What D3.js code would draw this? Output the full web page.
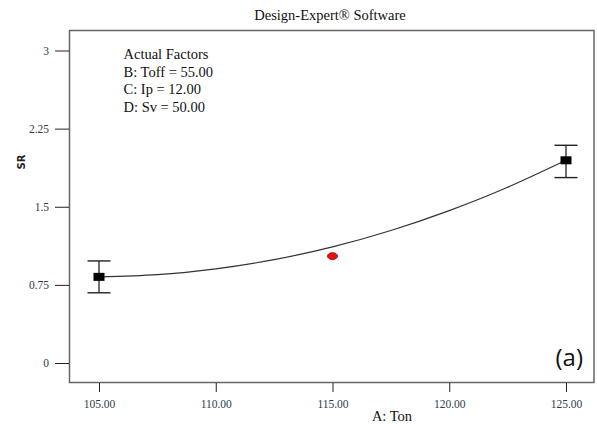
<!DOCTYPE html>
<html>
<head>
<meta charset="utf-8">
<script src="https://cdn.jsdelivr.net/npm/d3@7"></script>
<style>
  html, body { margin: 0; padding: 0; background: #fff; }
  svg { display: block; }
</style>
</head>
<body>
<svg id="chart" width="597" height="424"></svg>
<script>
// Design points (A: Ton) with observed means and error bars
const designTon = [105, 125];
const designSR = [0.827, 1.946];
const designLow = [0.674, 1.78];
const designHigh = [0.98, 2.09];

// Centre point
const centerTon = [115];
const centerSR = [1.026];

// Model prediction line
const curveTon = [105, 107.5, 110, 112.5, 115, 117.5, 120, 122.5, 125];
const curveSR = [0.827, 0.848, 0.903, 0.992, 1.115, 1.272, 1.463, 1.687, 1.946];

// Axis ticks
const xTicks = [105, 110, 115, 120, 125];
const yTicks = [0, 0.75, 1.5, 2.25, 3];
const yTickLabels = ["0", "0.75", "1.5", "2.25", "3"];

const factorLines = ["Actual Factors", "B: Toff = 55.00", "C: Ip = 12.00", "D: Sv = 50.00"];

const svg = d3.select("#chart");
const serif = "'Liberation Serif', 'Times New Roman', serif";

const frame = { left: 69.5, top: 30.5, right: 594, bottom: 382.5 };

const x = d3.scaleLinear().domain([105, 125]).range([99, 566]);
const y = d3.scaleLinear().domain([0, 3]).range([363, 50.5]);

// Title
svg.append("text")
  .attr("x", 330).attr("y", 20)
  .attr("text-anchor", "middle")
  .style("font-family", serif).style("font-size", "14.5px")
  .attr("fill", "#111")
  .text("Design-Expert\u00AE Software");

// Plot frame
svg.append("rect")
  .attr("x", frame.left).attr("y", frame.top)
  .attr("width", frame.right - frame.left)
  .attr("height", frame.bottom - frame.top)
  .attr("fill", "none").attr("stroke", "#666").attr("stroke-width", 1.5);

// X axis
const xAxis = d3.axisBottom(x)
  .tickValues(xTicks)
  .tickSize(9)
  .tickPadding(8)
  .tickFormat(d3.format(".2f"));
const gx = svg.append("g").attr("transform", `translate(0,${frame.bottom + 0.5})`).call(xAxis);
gx.select(".domain").remove();
gx.selectAll(".tick line").attr("stroke", "#222");
gx.selectAll(".tick text")
  .style("font-family", serif).style("font-size", "11.5px").attr("fill", "#2e3a4c");

// Y axis
const yAxis = d3.axisLeft(y)
  .tickValues(yTicks)
  .tickSize(14)
  .tickPadding(6)
  .tickFormat((d, i) => yTickLabels[i]);
const gy = svg.append("g").attr("transform", `translate(${frame.left - 0.5},0)`).call(yAxis);
gy.select(".domain").remove();
gy.selectAll(".tick line").attr("stroke", "#222");
gy.selectAll(".tick text")
  .style("font-family", serif).style("font-size", "11.5px").attr("fill", "#2e3a4c");

// Axis titles
svg.append("text")
  .attr("x", 392).attr("y", 421)
  .attr("text-anchor", "middle")
  .style("font-family", serif).style("font-size", "14.5px")
  .attr("fill", "#111")
  .text("A: Ton");

svg.append("text")
  .attr("transform", "translate(25,162) rotate(-90)")
  .attr("text-anchor", "middle")
  .style("font-family", "'DejaVu Sans', sans-serif").style("font-size", "10px")
  .style("font-weight", "bold")
  .attr("fill", "#222")
  .text("SR");

// Factor settings block
svg.append("g").selectAll("text")
  .data(factorLines)
  .join("text")
  .attr("x", 123.5)
  .attr("y", (d, i) => 59 + i * 17.6)
  .style("font-family", serif).style("font-size", "14.5px")
  .attr("fill", "#111")
  .text(d => d);

// Prediction curve
const curvePts = curveTon.map((t, i) => [t, curveSR[i]]);
svg.append("path")
  .datum(curvePts)
  .attr("fill", "none")
  .attr("stroke", "#333")
  .attr("stroke-width", 1.2)
  .attr("d", d3.line().x(d => x(d[0])).y(d => y(d[1])).curve(d3.curveNatural));

// Error bars
const bars = designTon.map((t, i) => ({ t, v: designSR[i], lo: designLow[i], hi: designHigh[i] }));
const eb = svg.append("g").selectAll("g").data(bars).join("g");
eb.append("line")
  .attr("x1", d => x(d.t)).attr("x2", d => x(d.t))
  .attr("y1", d => y(d.hi)).attr("y2", d => y(d.lo))
  .attr("stroke", "#111").attr("stroke-width", 1.2);
eb.append("line")
  .attr("x1", d => x(d.t) - 11.5).attr("x2", d => x(d.t) + 11.5)
  .attr("y1", d => y(d.hi)).attr("y2", d => y(d.hi))
  .attr("stroke", "#222").attr("stroke-width", 1.4);
eb.append("line")
  .attr("x1", d => x(d.t) - 11.5).attr("x2", d => x(d.t) + 11.5)
  .attr("y1", d => y(d.lo)).attr("y2", d => y(d.lo))
  .attr("stroke", "#222").attr("stroke-width", 1.4);
eb.append("rect")
  .attr("x", d => x(d.t) - 5.5).attr("y", d => y(d.v) - 4)
  .attr("width", 11).attr("height", 8)
  .attr("fill", "#000");

// Centre point
svg.append("g").selectAll("ellipse")
  .data(centerTon.map((t, i) => [t, centerSR[i]]))
  .join("ellipse")
  .attr("cx", d => x(d[0])).attr("cy", d => y(d[1]))
  .attr("rx", 5).attr("ry", 3.5)
  .attr("fill", "#e8100c").attr("stroke", "#8a0000").attr("stroke-width", 0.8);

// Panel label
svg.append("text")
  .attr("x", 583).attr("y", 366)
  .attr("text-anchor", "end")
  .style("font-family", "'Open Sans', sans-serif").style("font-size", "24px")
  .attr("fill", "#111")
  .text("(a)");
</script>
</body>
</html>
